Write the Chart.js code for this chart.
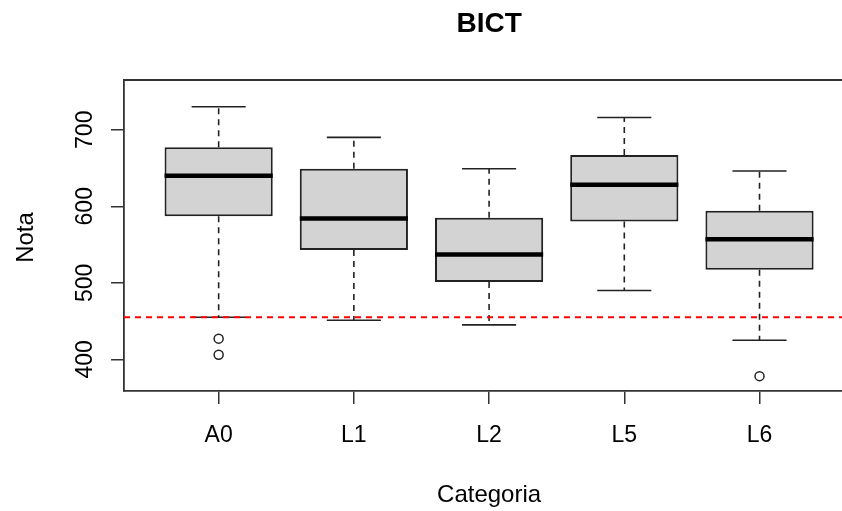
<!DOCTYPE html>
<html>
<head>
<meta charset="utf-8">
<script src="https://cdn.jsdelivr.net/npm/chart.js@4.4.0/dist/chart.umd.min.js"></script>
<style>
    html, body { margin: 0; padding: 0; background: #fff; overflow: hidden; }
    #wrap { width: 842px; height: 511px; }
</style>
</head>
<body>
<div id="wrap"><canvas id="chartPic" width="842" height="511"></canvas></div>
<script>
const categories  = ['A0', 'L1', 'L2', 'L5', 'L6'];
const whiskerLow  = [455, 451, 445, 490, 425];
const quartile1   = [587, 543, 501, 580, 517];
const medians     = [640, 584, 537, 628, 557];
const quartile3   = [677, 649, 585, 667, 594];
const whiskerHigh = [730, 690, 649, 716, 646];
const outlierCats = ['A0', 'A0', 'L6'];
const outlierVals = [427, 406, 378];
const yTicks = [400, 500, 600, 700];
const refLine = 455;
const chartTitle = 'BICT';
const xTitle = 'Categoria';
const yTitle = 'Nota';

const FONT = "'Liberation Sans', Arial, sans-serif";
const INK = '#222';

function seg(ctx, x1, y1, x2, y2) {
    ctx.beginPath();
    ctx.moveTo(x1, y1);
    ctx.lineTo(x2, y2);
    ctx.stroke();
}

// whiskers, staples, medians, reference line and all texts (R boxplot look)
const boxExtras = {
    id: 'boxExtras',
    afterDatasetsDraw(chart) {
        const ctx = chart.ctx;
        const x = chart.scales.x, y = chart.scales.y;
        const area = chart.chartArea;
        const unit = x.getPixelForValue(2) - x.getPixelForValue(1);
        ctx.save();
        categories.forEach((c, i) => {
            const cx = x.getPixelForValue(i + 1);
            ctx.strokeStyle = INK;
            ctx.lineWidth = 1.6;
            ctx.setLineDash([6, 5]);
            seg(ctx, cx, y.getPixelForValue(quartile3[i]), cx, y.getPixelForValue(whiskerHigh[i]));
            seg(ctx, cx, y.getPixelForValue(quartile1[i]), cx, y.getPixelForValue(whiskerLow[i]));
            ctx.setLineDash([]);
            const hw = unit * 0.2;
            seg(ctx, cx - hw, y.getPixelForValue(whiskerHigh[i]), cx + hw, y.getPixelForValue(whiskerHigh[i]));
            seg(ctx, cx - hw, y.getPixelForValue(whiskerLow[i]), cx + hw, y.getPixelForValue(whiskerLow[i]));
            ctx.strokeStyle = '#000';
            ctx.lineWidth = 4.5;
            const bw = unit * 0.4;
            seg(ctx, cx - bw, y.getPixelForValue(medians[i]), cx + bw, y.getPixelForValue(medians[i]));
        });

        // red dashed reference line
        ctx.strokeStyle = '#ff0000';
        ctx.lineWidth = 2;
        ctx.setLineDash([6, 5]);
        seg(ctx, area.left, y.getPixelForValue(refLine), area.right, y.getPixelForValue(refLine));
        ctx.setLineDash([]);

        // top side of the plot box
        ctx.strokeStyle = '#333';
        ctx.lineWidth = 1.8;
        seg(ctx, area.left, area.top, area.right, area.top);
        ctx.restore();
    },
    afterDraw(chart) {
        const ctx = chart.ctx;
        const x = chart.scales.x, y = chart.scales.y;
        const mid = x.getPixelForValue(3);
        ctx.save();
        ctx.fillStyle = '#000';
        ctx.textBaseline = 'alphabetic';
        ctx.textAlign = 'center';

        ctx.font = 'bold 28px ' + FONT;
        ctx.fillText(chartTitle, mid, 32);

        ctx.font = '23px ' + FONT;
        categories.forEach((c, i) => {
            ctx.fillText(c, x.getPixelForValue(i + 1), 442);
        });

        ctx.font = '24px ' + FONT;
        ctx.fillText(xTitle, mid, 502);

        ctx.font = '23px ' + FONT;
        yTicks.forEach(v => {
            ctx.save();
            ctx.translate(92, y.getPixelForValue(v));
            ctx.rotate(-Math.PI / 2);
            ctx.fillText(String(v), 0, 0);
            ctx.restore();
        });

        ctx.font = '24px ' + FONT;
        ctx.save();
        ctx.translate(33, (chart.chartArea.top + chart.chartArea.bottom) / 2 + 2);
        ctx.rotate(-Math.PI / 2);
        ctx.fillText(yTitle, 0, 0);
        ctx.restore();
        ctx.restore();
    }
};

const ctx = document.getElementById('chartPic');
const myChart = new Chart(ctx, {
    type: 'bar',
    data: {
        datasets: [
            {
                type: 'bar',
                data: categories.map((c, i) => ({x: i + 1, y: [quartile1[i], quartile3[i]]})),
                backgroundColor: '#d3d3d3',
                borderColor: INK,
                borderWidth: 2,
                borderSkipped: false,
                categoryPercentage: 0.8,
                barPercentage: 1
            },
            {
                type: 'scatter',
                data: outlierVals.map((v, i) => ({x: categories.indexOf(outlierCats[i]) + 1, y: v})),
                pointRadius: 4.5,
                pointHoverRadius: 4.5,
                borderColor: INK,
                borderWidth: 1.5,
                backgroundColor: 'rgba(0, 0, 0, 0)'
            }
        ]
    },
    options: {
        responsive: false,
        animation: false,
        events: [],
        layout: {
            autoPadding: false,
            padding: {left: 0, top: 80, right: 0, bottom: 0}
        },
        scales: {
            x: {
                type: 'linear',
                min: 0.3,
                max: 5.61,
                offset: false,
                afterBuildTicks: function (scale) {
                    scale.ticks = categories.map((c, i) => ({value: i + 1}));
                },
                afterFit: function (scale) {
                    scale.height = 120;
                },
                ticks: {display: false},
                grid: {
                    offset: false,
                    drawOnChartArea: false,
                    drawTicks: true,
                    tickLength: 13,
                    color: '#333',
                    lineWidth: 1.5
                },
                border: {display: true, color: '#333', width: 1.8}
            },
            y: {
                type: 'linear',
                min: 358.6,
                max: 765,
                afterBuildTicks: function (scale) {
                    scale.ticks = yTicks.map(v => ({value: v}));
                },
                afterFit: function (scale) {
                    scale.width = 124;
                },
                ticks: {display: false},
                grid: {
                    drawOnChartArea: false,
                    drawTicks: true,
                    tickLength: 13,
                    color: '#333',
                    lineWidth: 1.5
                },
                border: {display: true, color: '#333', width: 1.8}
            }
        },
        plugins: {
            legend: {display: false},
            tooltip: {enabled: false},
            title: {display: false}
        }
    },
    plugins: [boxExtras]
});
</script>
</body>
</html>
